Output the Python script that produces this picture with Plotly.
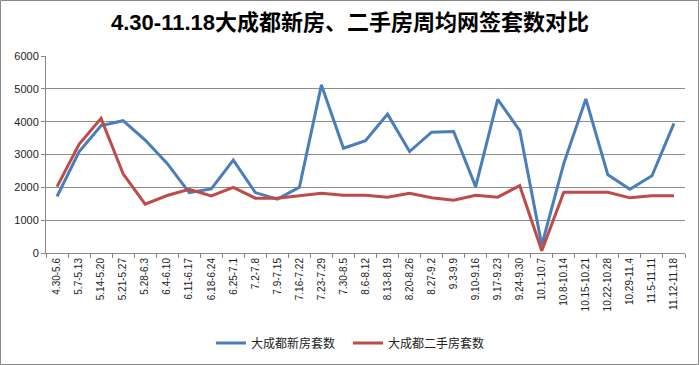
import plotly.graph_objects as go

categories = ["4.30-5.6", "5.7-5.13", "5.14-5.20", "5.21-5.27", "5.28-6.3", "6.4-6.10",
              "6.11-6.17", "6.18-6.24", "6.25-7.1", "7.2-7.8", "7.9-7.15", "7.16-7.22",
              "7.23-7.29", "7.30-8.5", "8.6-8.12", "8.13-8.19", "8.20-8.26", "8.27-9.2",
              "9.3-9.9", "9.10-9.16", "9.17-9.23", "9.24-9.30", "10.1-10.7", "10.8-10.14",
              "10.15-10.21", "10.22-10.28", "10.29-11.4", "11.5-11.11", "11.12-11.18"]

new_homes = [1720, 3080, 3880, 4030, 3440, 2730, 1840, 1950, 2830, 1840, 1640, 2000,
             5120, 3190, 3420, 4230, 3090, 3680, 3700, 2020, 4680, 3730, 240, 2730,
             4690, 2380, 1940, 2350, 3950]

second_hand = [2020, 3310, 4100, 2410, 1490, 1750, 1940, 1740, 2000, 1670, 1670, 1740,
               1820, 1760, 1760, 1700, 1820, 1680, 1610, 1760, 1700, 2050, 70, 1850,
               1850, 1850, 1680, 1740, 1740]

series_names = ["大成都新房套数", "大成都二手房套数"]
title_text = "4.30-11.18大成都新房、二手房周均网签套数对比"

font_family = "Liberation Sans, Noto Sans CJK SC, sans-serif"

fig = go.Figure()
fig.add_trace(go.Scatter(x=categories, y=new_homes, mode="lines", name=series_names[0],
                         line=dict(color="#4A7EBB", width=3)))
fig.add_trace(go.Scatter(x=categories, y=second_hand, mode="lines", name=series_names[1],
                         line=dict(color="#BE4B48", width=3)))

fig.update_layout(
    width=700, height=365,
    paper_bgcolor="white", plot_bgcolor="white",
    margin=dict(l=46, r=15, t=56, b=112, autoexpand=False),
    title=dict(text="<b>" + title_text + "</b>", x=0.5, xanchor="center", y=0.94, yanchor="middle",
               font=dict(family=font_family, size=22, color="black")),
    font=dict(family=font_family, size=11, color="#222"),
    showlegend=True,
    legend=dict(orientation="h", x=0.4725, xanchor="center", y=-0.457, yanchor="middle",
                font=dict(size=12, color="#222"), entrywidth=92, entrywidthmode="pixels"),
    xaxis=dict(type="category", tickangle=-90, tickfont=dict(size=10), automargin=False,
               showline=True, linecolor="#888", linewidth=1, ticks="outside",
               tickson="boundaries", ticklen=4, tickcolor="#888", showgrid=False,
               range=[-0.5, 28.5]),
    yaxis=dict(range=[0, 6000], dtick=1000, showline=True, linecolor="#888", linewidth=1,
               ticks="outside", ticklen=4, tickcolor="#888", showgrid=True, automargin=False,
               gridcolor="#8c8c8c", gridwidth=1, tickfont=dict(size=11), zeroline=False),
    shapes=[dict(type="rect", xref="paper", yref="paper", x0=-45.5/639, x1=1 + 13.5/639,
                 y0=-111.5/197, y1=1 + 55.5/197, line=dict(color="#888", width=1))],
)

fig.write_html("out.html", config={"displayModeBar": False},
               post_script="document.body.style.margin='0';")
